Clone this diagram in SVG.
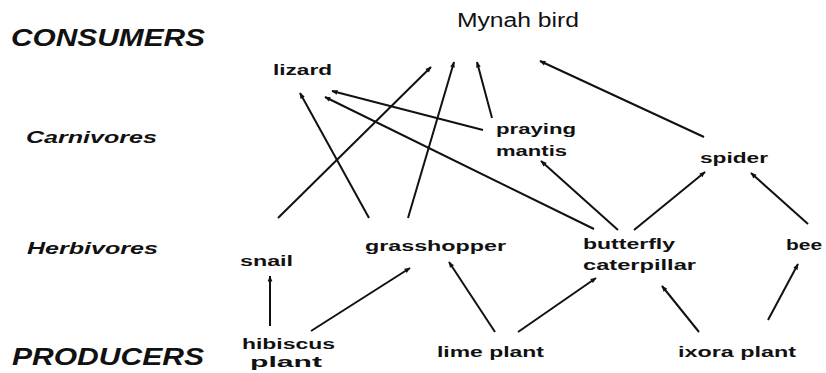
<svg xmlns="http://www.w3.org/2000/svg" width="826" height="373" viewBox="0 0 826 373">
<defs>
<marker id="ah" viewBox="0 0 10 10" refX="9" refY="5" markerWidth="7" markerHeight="6" markerUnits="userSpaceOnUse" orient="auto">
<path d="M0,1 L10,5 L0,9 Z" fill="#111"/>
</marker>
<style>
.lvl{font-family:"Liberation Sans",Arial,sans-serif;font-style:italic;font-weight:bold;fill:#111}
.nd{font-family:"Liberation Sans",Arial,sans-serif;font-weight:bold;font-size:14px;fill:#111}
.top{font-family:"Liberation Sans",Arial,sans-serif;font-size:20px;fill:#111}
.cn line{stroke:#111;stroke-width:2;marker-end:url(#ah)}
</style>
</defs>
<rect width="826" height="373" fill="#fff"/>
<g id="levels">
<text class="lvl" x="11" y="46" font-size="24" textLength="194" lengthAdjust="spacingAndGlyphs">CONSUMERS</text>
<text class="lvl" x="26" y="143" font-size="17" textLength="131" lengthAdjust="spacingAndGlyphs">Carnivores</text>
<text class="lvl" x="27" y="254" font-size="17" textLength="131" lengthAdjust="spacingAndGlyphs">Herbivores</text>
<text class="lvl" x="12" y="365" font-size="24" textLength="192" lengthAdjust="spacingAndGlyphs">PRODUCERS</text>
</g>
<g id="mynah"><text class="top" x="457" y="27" textLength="122" lengthAdjust="spacingAndGlyphs">Mynah bird</text></g>
<g id="lizard"><text class="nd" x="273" y="75" textLength="59" lengthAdjust="spacingAndGlyphs">lizard</text></g>
<g id="mantis">
<text class="nd" x="496" y="134" textLength="80" lengthAdjust="spacingAndGlyphs">praying</text>
<text class="nd" x="496" y="156" textLength="71" lengthAdjust="spacingAndGlyphs">mantis</text>
</g>
<g id="spider"><text class="nd" x="700" y="163" textLength="68" lengthAdjust="spacingAndGlyphs">spider</text></g>
<g id="snail"><text class="nd" x="240" y="266" textLength="53" lengthAdjust="spacingAndGlyphs">snail</text></g>
<g id="grasshopper"><text class="nd" x="365" y="251" textLength="141" lengthAdjust="spacingAndGlyphs">grasshopper</text></g>
<g id="caterpillar">
<text class="nd" x="583" y="249" textLength="92" lengthAdjust="spacingAndGlyphs">butterfly</text>
<text class="nd" x="583" y="270" textLength="113" lengthAdjust="spacingAndGlyphs">caterpillar</text>
</g>
<g id="bee"><text class="nd" x="786" y="250" textLength="36" lengthAdjust="spacingAndGlyphs">bee</text></g>
<g id="hibiscus">
<text class="nd" x="242" y="349" textLength="93" lengthAdjust="spacingAndGlyphs">hibiscus</text>
<text class="nd" x="250" y="367" textLength="72" lengthAdjust="spacingAndGlyphs">plant</text>
</g>
<g id="lime"><text class="nd" x="437" y="357" textLength="107" lengthAdjust="spacingAndGlyphs">lime plant</text></g>
<g id="ixora"><text class="nd" x="678" y="357" textLength="118" lengthAdjust="spacingAndGlyphs">ixora plant</text></g>
<g id="connectors" class="cn">
<line x1="278" y1="218" x2="431" y2="67"/>
<line x1="408" y1="218" x2="454" y2="62"/>
<line x1="492" y1="118" x2="477" y2="62"/>
<line x1="704" y1="137" x2="540" y2="61"/>
<line x1="369" y1="218" x2="300" y2="93"/>
<line x1="483" y1="130" x2="332" y2="91"/>
<line x1="594" y1="229" x2="325" y2="97"/>
<line x1="618" y1="230" x2="541" y2="161"/>
<line x1="634" y1="230" x2="705" y2="172"/>
<line x1="808" y1="224" x2="751" y2="173"/>
<line x1="270" y1="326" x2="270" y2="276"/>
<line x1="311" y1="331" x2="410" y2="268"/>
<line x1="495" y1="332" x2="449" y2="262"/>
<line x1="518" y1="332" x2="596" y2="278"/>
<line x1="699" y1="332" x2="662" y2="286"/>
<line x1="768" y1="320" x2="798" y2="264"/>
</g>
</svg>
